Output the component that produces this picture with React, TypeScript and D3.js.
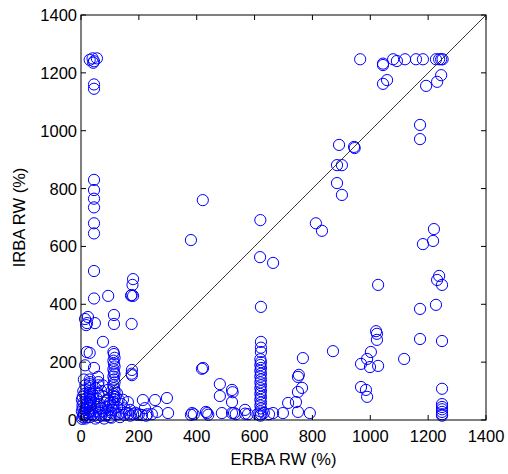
import React from "react";
import * as d3 from "d3";

const xTicks = [0, 200, 400, 600, 800, 1000, 1200, 1400];
const yTicks = [0, 200, 400, 600, 800, 1000, 1200, 1400];
const xLabel = "ERBA RW (%)";
const yLabel = "IRBA RW (%)";

// [ERBA, IRBA] pairs grouped by region
const leftColumn: [number, number][] = [
  [30, 1245], [40, 1250], [45, 1240], [55, 1250], [42, 1235], [45, 1160], [45, 1145],
  [45, 830], [45, 795], [45, 765], [45, 735], [45, 680], [45, 645], [45, 515], [45, 420],
  [48, 335], [14, 349], [21, 335], [18, 328], [24, 356], [76, 270], [94, 429],
  [20, 235], [30, 232], [14, 189], [45, 180],
];
const cluster114: [number, number][] = [
  [114, 363], [114, 332], [112, 235], [114, 228], [116, 215], [112, 205], [114, 195],
  [116, 185], [112, 175], [114, 165], [116, 158], [112, 150], [114, 140], [116, 130],
  [112, 120], [114, 110], [116, 100], [112, 90], [114, 80], [116, 70], [112, 60],
];
const cluster175: [number, number][] = [
  [180, 487], [178, 467], [175, 432], [180, 429], [173, 430], [175, 332],
  [176, 173], [175, 160], [176, 155],
];
const denseCorner: [number, number][] = [
  [30, 140], [31, 131], [30, 124], [31, 117], [30, 110], [31, 100], [30, 92], [31, 85],
  [30, 78], [31, 70], [30, 60], [31, 50], [30, 40], [31, 30], [30, 20], [31, 10],
  [8, 100], [6, 80], [8, 60], [6, 40], [8, 20], [6, 10], [4, 4],
  [59, 149], [60, 131], [60, 120], [70, 100], [80, 80], [93, 104], [90, 70], [100, 60],
  [70, 40], [50, 30], [90, 20], [100, 10], [120, 20], [60, 10], [15, 5], [10, 15],
  [25, 25], [35, 50], [45, 60], [55, 75], [65, 55], [75, 30], [85, 45], [95, 35],
  [105, 25], [110, 50], [124, 93], [120, 80], [130, 70], [140, 55], [150, 40],
  [162, 62], [170, 35], [140, 25], [145, 70], [20, 60], [40, 90], [50, 110],
  [15, 120], [70, 15], [80, 5], [20, 45], [45, 15],
  [3, 30], [5, 50], [3, 70], [12, 90], [18, 75], [22, 55], [14, 35], [10, 25],
  [40, 20], [55, 45], [65, 25], [80, 60], [85, 15], [95, 50], [110, 35], [105, 8],
  [125, 45], [135, 10], [20, 10], [50, 5], [35, 70], [60, 90], [75, 120], [10, 140],
];
const bottomRow: [number, number][] = [
  [130, 20], [150, 18], [165, 22], [180, 20], [195, 18], [211, 17], [221, 41],
  [214, 69], [230, 20], [256, 69], [263, 28], [297, 76], [301, 24], [245, 20],
  [155, 25], [170, 15], [188, 25], [200, 20], [225, 15],
  [384, 24], [380, 18], [390, 20], [422, 180], [436, 24], [440, 18], [432, 28],
  [480, 124], [480, 83], [487, 24], [522, 104], [524, 96], [522, 62], [522, 24],
  [529, 24], [535, 20], [567, 35], [567, 22], [577, 20], [380, 622], [421, 760], [418, 177],
];
const column620: [number, number][] = [
  [620, 691], [619, 563], [622, 391], [622, 270], [622, 250], [622, 235],
  [620, 210], [622, 200], [620, 190], [622, 180], [620, 170], [622, 160], [620, 150],
  [622, 140], [620, 130], [622, 120], [620, 110], [622, 100], [620, 90], [622, 80],
  [620, 70], [622, 60], [620, 50], [622, 40], [620, 30], [622, 20], [620, 15],
  [610, 20], [632, 25], [650, 20],
];
const middle: [number, number][] = [
  [664, 543], [767, 214], [753, 156], [750, 149], [764, 111], [750, 97], [743, 62],
  [716, 59], [750, 28], [791, 24], [698, 24], [664, 24], [871, 238],
  [812, 680], [833, 654], [885, 881], [902, 881], [885, 819], [902, 778],
  [892, 951], [944, 944], [946, 940],
];
const rightSide: [number, number][] = [
  [1027, 467], [1020, 307], [1023, 298], [1023, 277], [1002, 235], [989, 211],
  [968, 194], [999, 183], [1027, 187], [968, 114], [985, 104], [989, 80],
  [1117, 211], [1172, 280], [1172, 384], [1227, 398], [1231, 484], [1238, 498],
  [1248, 467], [1248, 273], [1248, 108], [1248, 55], [1248, 45], [1248, 37],
  [1248, 28], [1248, 20], [1248, 15], [1182, 608], [1217, 619], [1220, 660],
  [1172, 1020], [1172, 971],
];
const topRight: [number, number][] = [
  [965, 1247], [1044, 1227], [1044, 1232], [1079, 1247], [1092, 1241], [1120, 1247],
  [1158, 1247], [1182, 1247], [1227, 1247], [1238, 1247], [1245, 1247], [1250, 1247],
  [1245, 1192], [1193, 1155], [1231, 1169], [1044, 1162], [1058, 1175],
];

const allPoints = [
  ...leftColumn, ...cluster114, ...cluster175, ...denseCorner, ...bottomRow,
  ...column620, ...middle, ...rightSide, ...topRight,
];

export default function App() {
  const W = 508, H = 474;
  const left = 81, right = 486, top = 15, bottom = 420;
  const x = d3.scaleLinear().domain([0, 1400]).range([left, right]);
  const y = d3.scaleLinear().domain([0, 1400]).range([bottom, top]);
  const font = "'Liberation Sans', Arial, sans-serif";
  const tl = 5;
  return (
    <svg width={W} height={H} style={{ position: "absolute", left: 0, top: 0, background: "#fff" }}>
      <rect x={0} y={0} width={W} height={H} fill="#fff" />
      {allPoints.map((p, i) => (
        <circle key={i} cx={x(p[0])} cy={y(p[1])} r={5.6} fill="none" stroke="#0000ff" strokeWidth={1} />
      ))}
      <line x1={x(0)} y1={y(0)} x2={x(1400)} y2={y(1400)} stroke="#222" strokeWidth={0.9} />
      <rect x={left} y={top} width={right - left} height={bottom - top} fill="none" stroke="#000" strokeWidth={1} />
      {xTicks.map((t) => (
        <g key={"x" + t}>
          <line x1={x(t)} x2={x(t)} y1={bottom} y2={bottom - tl} stroke="#000" />
          <line x1={x(t)} x2={x(t)} y1={top} y2={top + tl} stroke="#000" />
          <text x={x(t)} y={442} textAnchor="middle" fontFamily={font} fontSize={16.5} fill="#000">{t}</text>
        </g>
      ))}
      {yTicks.map((t) => (
        <g key={"y" + t}>
          <line x1={left} x2={left + tl} y1={y(t)} y2={y(t)} stroke="#000" />
          <line x1={right} x2={right - tl} y1={y(t)} y2={y(t)} stroke="#000" />
          <text x={77} y={y(t) + 6} textAnchor="end" fontFamily={font} fontSize={16.5} fill="#000">{t}</text>
        </g>
      ))}
      <text x={(left + right) / 2} y={465} textAnchor="middle" fontFamily={font} fontSize={16.5} fill="#000">{xLabel}</text>
      <text transform={`translate(25, ${(top + bottom) / 2}) rotate(-90)`} textAnchor="middle" fontFamily={font} fontSize={16.5} fill="#000">{yLabel}</text>
    </svg>
  );
}
